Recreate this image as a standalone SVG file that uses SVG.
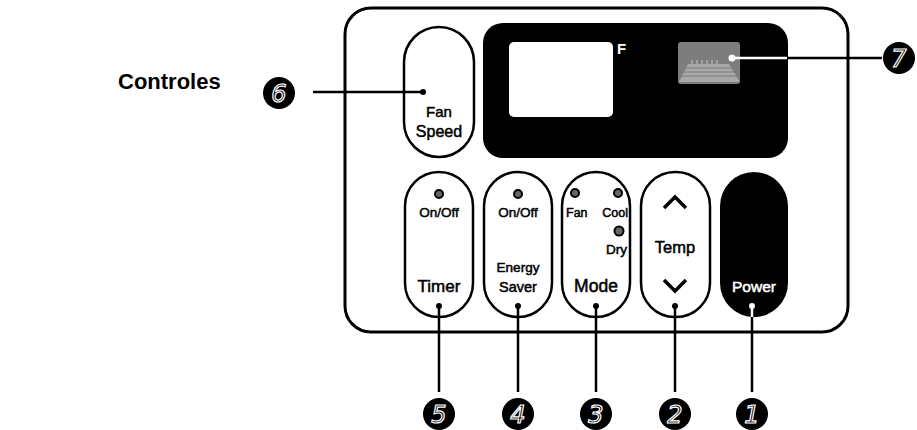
<svg xmlns="http://www.w3.org/2000/svg" width="917" height="430" viewBox="0 0 917 430">
<defs>
<style>
.t{font-family:"Liberation Sans",Arial,sans-serif;fill:#000}
.b{stroke:#000;stroke-width:0.5}
.w{fill:#fff}
.bw{stroke:#fff;stroke-width:0.5}
.btn{fill:#fff;stroke:#000;stroke-width:2.5}
.led{fill:#666;stroke:#000;stroke-width:2}
.ln{stroke:#000;stroke-width:2.5;fill:none}
.num{fill:#000}
.nt{font-family:"DejaVu Sans","Liberation Sans",sans-serif;font-style:italic;font-size:24px;fill:#000;stroke:#fff;stroke-width:1.2;text-anchor:middle}
.dot{fill:#000}
</style>
</defs>
<rect width="917" height="430" fill="#fff"/>
<text class="t" x="118" y="89" font-size="22" font-weight="bold">Controles</text>

<g id="panel">
<rect x="345" y="8" width="503" height="324" rx="26" fill="#fff" stroke="#000" stroke-width="3"/>
</g>

<g id="display">
<rect x="483" y="23" width="305" height="135" rx="20" fill="#000"/>
<rect x="509" y="42" width="104" height="75" rx="5" fill="#fff"/>
<text class="t w" x="617" y="54" font-size="15" font-weight="bold">F</text>
<rect x="678" y="42" width="62" height="42" rx="3" fill="#7d7d7d"/>
<path d="M688,64 L729,64 L740,82 L679,82 Z" fill="#a8a8a8"/>
<path d="M684,68 H735 M682,72 H737 M681,76 H738" stroke="#7d7d7d" stroke-width="1"/>
<path d="M692,60 V64 M697,60 V64 M702,60 V64 M707,60 V64 M712,60 V64 M717,60 V64" stroke="#bbb" stroke-width="1.2"/>
</g>

<g id="fan-speed">
<rect class="btn" x="404" y="27" width="70" height="130" rx="35"/>
<text class="t b" x="439" y="117" font-size="15" text-anchor="middle">Fan</text>
<text class="t b" x="439" y="137" font-size="16" text-anchor="middle">Speed</text>
</g>

<g id="timer">
<rect class="btn" x="405" y="172" width="68" height="145" rx="34"/>
<circle class="led" cx="439" cy="194" r="4"/>
<text class="t b" x="439" y="217" font-size="13.5" text-anchor="middle">On/Off</text>
<text class="t b" x="439" y="292" font-size="17" text-anchor="middle">Timer</text>
</g>

<g id="energy-saver">
<rect class="btn" x="484" y="172" width="68" height="145" rx="34"/>
<circle class="led" cx="518" cy="194" r="4"/>
<text class="t b" x="518" y="217" font-size="13.5" text-anchor="middle">On/Off</text>
<text class="t b" x="518" y="272" font-size="13.5" text-anchor="middle">Energy</text>
<text class="t b" x="518" y="292" font-size="14.5" text-anchor="middle">Saver</text>
</g>

<g id="mode">
<rect class="btn" x="562" y="172" width="68" height="145" rx="34"/>
<circle class="led" cx="575" cy="193" r="4"/>
<circle class="led" cx="618" cy="193" r="4"/>
<circle class="led" cx="619" cy="231" r="4.5"/>
<text class="t b" x="566" y="217" font-size="12.5">Fan</text>
<text class="t b" x="628" y="217" font-size="12.5" text-anchor="end">Cool</text>
<text class="t b" x="627" y="254" font-size="13.5" text-anchor="end">Dry</text>
<text class="t b" x="596" y="292" font-size="17.5" text-anchor="middle">Mode</text>
</g>

<g id="temp">
<rect class="btn" x="641" y="172" width="69" height="145" rx="34"/>
<polyline points="664,208 675,197 686,208" fill="none" stroke="#000" stroke-width="3.5"/>
<text class="t b" x="675" y="253" font-size="16.5" text-anchor="middle">Temp</text>
<polyline points="664,280 675,291 686,280" fill="none" stroke="#000" stroke-width="3.5"/>
</g>

<g id="power">
<rect x="720" y="172" width="68" height="145" rx="34" fill="#000"/>
<text class="t w bw" x="754" y="292" font-size="15.5" text-anchor="middle">Power</text>
</g>

<g id="connectors">
<line class="ln" x1="313" y1="92" x2="423" y2="92"/>
<circle class="dot" cx="423" cy="92" r="3"/>
<line x1="732" y1="58" x2="787" y2="58" stroke="#fff" stroke-width="2.5"/>
<circle cx="732" cy="58" r="3.5" fill="#fff"/>
<line class="ln" x1="787" y1="58" x2="882" y2="58"/>
<line class="ln" x1="439" y1="306" x2="439" y2="392"/>
<circle class="dot" cx="439" cy="306" r="3"/>
<line class="ln" x1="518" y1="306" x2="518" y2="392"/>
<circle class="dot" cx="518" cy="306" r="3"/>
<line class="ln" x1="596" y1="306" x2="596" y2="392"/>
<circle class="dot" cx="596" cy="306" r="3"/>
<line class="ln" x1="675" y1="306" x2="675" y2="392"/>
<circle class="dot" cx="675" cy="306" r="3"/>
<line x1="752" y1="306" x2="752" y2="317" stroke="#fff" stroke-width="2.5"/>
<line class="ln" x1="752" y1="317" x2="752" y2="392"/>
<circle cx="752" cy="306" r="3" fill="#fff"/>
</g>

<g id="label-6"><circle class="num" cx="279" cy="93" r="16"/><text class="nt" x="279" y="102">6</text></g>
<g id="label-7"><circle class="num" cx="899" cy="58" r="16"/><text class="nt" x="899" y="67">7</text></g>
<g id="label-5"><circle class="num" cx="439" cy="414" r="16"/><text class="nt" x="439" y="423">5</text></g>
<g id="label-4"><circle class="num" cx="518" cy="414" r="16"/><text class="nt" x="518" y="423">4</text></g>
<g id="label-3"><circle class="num" cx="596" cy="414" r="16"/><text class="nt" x="596" y="423">3</text></g>
<g id="label-2"><circle class="num" cx="675" cy="414" r="16"/><text class="nt" x="675" y="423">2</text></g>
<g id="label-1"><circle class="num" cx="752" cy="414" r="16"/><text class="nt" x="752" y="423">1</text></g>
</svg>
